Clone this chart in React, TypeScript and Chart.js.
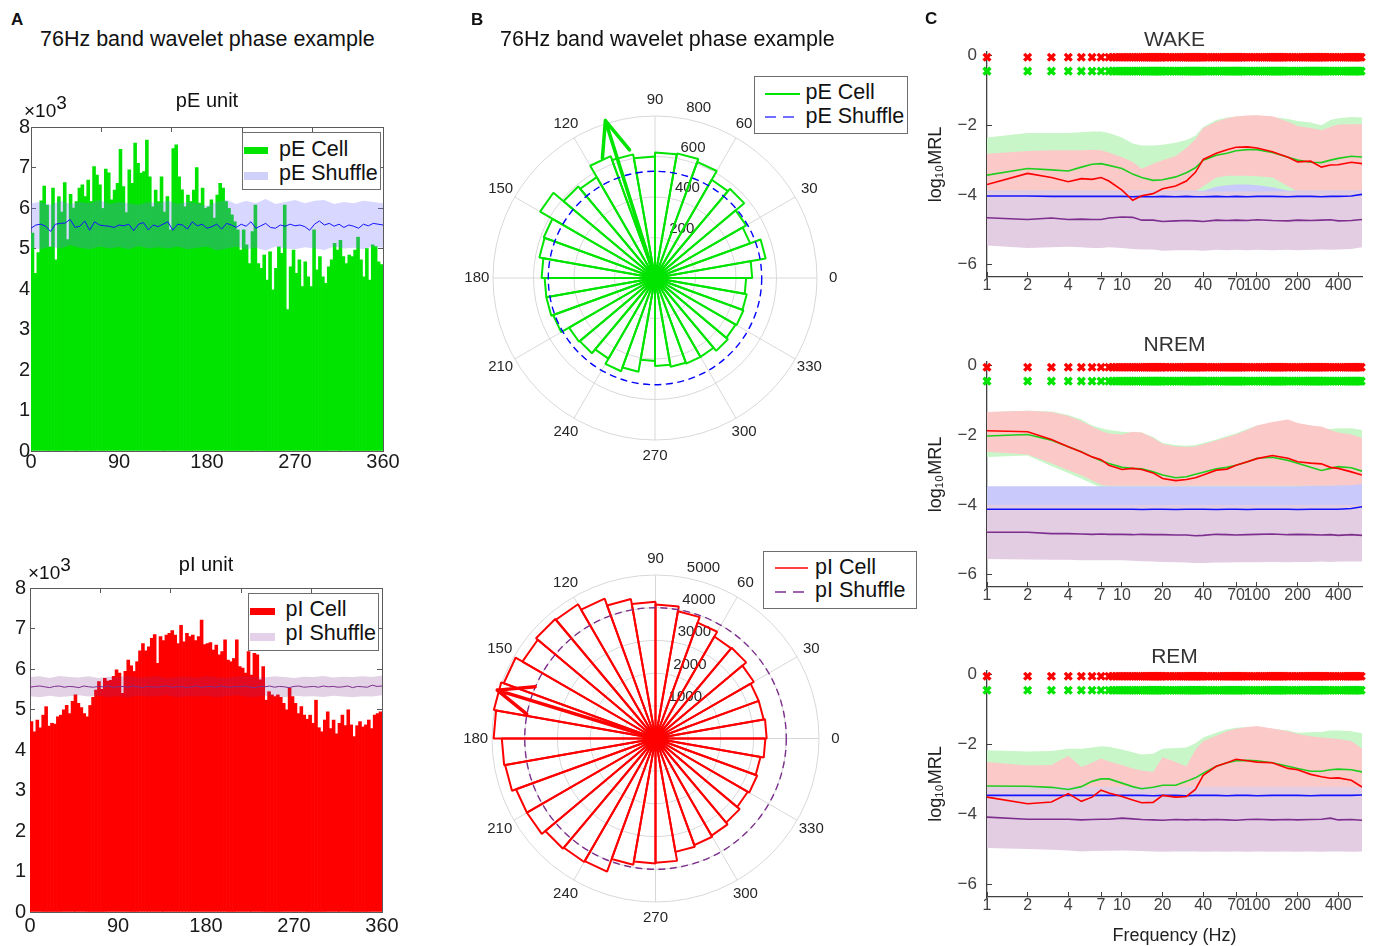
import React, { useEffect, useRef } from "react";
import { Chart, registerables } from "chart.js";

Chart.register(...registerables);

const FONT = '"Liberation Sans", Arial, Helvetica, sans-serif';
Chart.defaults.font.family = FONT;
Chart.defaults.color = "#222";

// ================= Panel A : phase histograms (x10^3 counts, 3-degree bins) =================
const HIST_BIN_DEG = 3;
const PHASE_MIN = 0;
const PHASE_MAX = 360;
const PHASE_STEP = 90;
const COUNT_MIN = 0;
const COUNT_MAX = 8;

const PE_COUNTS = [
  5.38, 4.39, 4.9, 6.18, 6.54, 6.07, 5.04, 6.49, 4.72, 6.28,
  5.9, 6.63, 5.22, 6.34, 6.0, 6.16, 6.49, 6.57, 6.28, 6.69,
  6.16, 7.02, 6.81, 6.57, 5.99, 6.96, 6.87, 6.2, 6.44, 6.61,
  7.45, 6.53, 5.89, 6.94, 6.61, 7.6, 7.1, 6.86, 6.9, 7.68,
  6.77, 6.03, 6.44, 6.16, 6.77, 5.9, 6.28, 5.46, 7.47, 7.56,
  6.77, 6.45, 6.03, 6.32, 6.16, 6.44, 7.0, 6.12, 6.49, 5.99,
  6.03, 6.2, 5.75, 6.32, 6.61, 6.49, 6.16, 5.99, 5.83, 5.66,
  5.46, 4.96, 5.46, 5.09, 4.63, 5.42, 6.07, 4.63, 4.51, 4.84,
  4.22, 4.92, 3.98, 4.51, 5.04, 4.88, 6.07, 3.49, 4.55, 4.96,
  4.39, 4.72, 4.06, 4.67, 4.3, 4.06, 5.46, 4.47, 4.8, 4.3,
  4.14, 4.55, 4.72, 5.13, 4.96, 5.2, 4.8, 4.63, 4.84, 4.8,
  4.96, 5.28, 4.72, 4.3, 5.0, 4.22, 5.09, 5.05, 4.67, 4.6,
];

const PI_COUNTS = [
  4.7, 4.45, 4.74, 4.55, 4.86, 5.07, 4.59, 4.66, 4.64, 4.82,
  4.86, 4.99, 5.1, 4.9, 5.2, 5.36, 5.15, 5.05, 4.9, 4.82,
  5.1, 5.3, 5.48, 5.69, 5.5, 5.77, 5.7, 5.72, 5.82, 5.98,
  5.9, 5.4, 5.94, 6.22, 6.08, 5.94, 6.18, 6.45, 6.63, 6.45,
  6.55, 6.76, 6.85, 6.14, 6.8, 6.7, 6.84, 6.88, 6.95, 6.84,
  6.63, 7.08, 6.67, 6.88, 6.8, 6.84, 6.7, 6.8, 7.21, 6.6,
  6.63, 6.65, 6.47, 6.59, 6.35, 6.43, 6.72, 6.22, 6.18, 6.26,
  6.72, 6.06, 6.02, 5.9, 6.43, 5.85, 6.39, 6.35, 5.73, 6.06,
  5.23, 5.44, 5.36, 5.32, 5.36, 5.3, 5.15, 4.99, 5.52, 5.32,
  5.15, 4.9, 5.07, 4.86, 4.76, 4.86, 4.66, 5.23, 4.55, 4.45,
  4.74, 4.94, 4.53, 4.74, 4.4, 4.66, 4.86, 4.6, 4.99, 4.62,
  4.33, 4.6, 4.7, 4.57, 4.62, 4.74, 4.53, 4.86, 4.9, 4.94,
];

// shuffle band (every 10 deg) and shuffle mean (every 5 deg)
const SHUF_BAND_STEP = 10;
const SHUF_MEAN_STEP = 5;

const PE_SHUF_HI = [
  6.12, 6.15, 6.08, 6.18, 6.1, 6.15, 6.12, 6.2, 6.1, 6.15,
  6.12, 6.08, 6.15, 6.12, 6.18, 6.1, 6.15, 6.12, 6.05, 6.15,
  6.2, 6.1, 6.18, 6.12, 6.22, 6.1, 6.15, 6.2, 6.12, 6.18,
  6.2, 6.1, 6.15, 6.12, 6.18, 6.15, 6.12,
];
const PE_SHUF_LO = [
  5.02, 4.98, 5.05, 5.0, 5.08, 5.02, 4.98, 5.05, 5.0, 5.04,
  4.98, 5.06, 5.0, 5.03, 5.0, 5.05, 4.98, 5.02, 5.05, 4.95,
  5.0, 5.05, 4.98, 5.02, 4.95, 5.05, 5.0, 4.98, 5.03, 5.0,
  4.96, 5.05, 5.0, 5.02, 4.98, 5.05, 5.02,
];
const PE_SHUF_MEAN = [
  5.5, 5.58, 5.6, 5.55, 5.42, 5.6, 5.62, 5.63, 5.72, 5.52,
  5.55, 5.68, 5.45, 5.66, 5.58, 5.56, 5.55, 5.52, 5.58, 5.56,
  5.6, 5.44, 5.6, 5.64, 5.46, 5.58, 5.54, 5.6, 5.66, 5.45,
  5.6, 5.58, 5.48, 5.66, 5.56, 5.6, 5.5, 5.54, 5.6, 5.48,
  5.62, 5.58, 5.52, 5.6, 5.55, 5.66, 5.5, 5.56, 5.62, 5.52,
  5.5, 5.58, 5.55, 5.6, 5.56, 5.58, 5.54, 5.45, 5.6, 5.68,
  5.58, 5.62, 5.55, 5.6, 5.52, 5.58, 5.55, 5.5, 5.6, 5.56,
  5.62, 5.6, 5.58,
];
const PI_SHUF_HI = [
  5.8, 5.82, 5.78, 5.83, 5.8, 5.79, 5.82, 5.78, 5.81, 5.8,
  5.83, 5.79, 5.8, 5.82, 5.78, 5.8, 5.81, 5.79, 5.82, 5.8,
  5.78, 5.81, 5.83, 5.8, 5.79, 5.82, 5.8, 5.78, 5.81, 5.8,
  5.83, 5.79, 5.81, 5.8, 5.82, 5.8, 5.84,
];
const PI_SHUF_LO = [
  5.33, 5.3, 5.34, 5.31, 5.33, 5.35, 5.32, 5.34, 5.31, 5.33,
  5.3, 5.34, 5.32, 5.33, 5.35, 5.31, 5.33, 5.32, 5.34, 5.31,
  5.33, 5.35, 5.32, 5.31, 5.34, 5.33, 5.3, 5.34, 5.32, 5.33,
  5.31, 5.34, 5.32, 5.3, 5.33, 5.32, 5.35,
];
const PI_SHUF_MEAN = [
  5.55, 5.57, 5.58, 5.56, 5.54, 5.57, 5.58, 5.55, 5.57, 5.56,
  5.54, 5.58, 5.56, 5.55, 5.57, 5.56, 5.58, 5.55, 5.56, 5.57,
  5.55, 5.58, 5.56, 5.54, 5.57, 5.56, 5.55, 5.57, 5.58, 5.55,
  5.56, 5.57, 5.54, 5.56, 5.58, 5.55, 5.56, 5.57, 5.55, 5.58,
  5.56, 5.55, 5.57, 5.56, 5.58, 5.55, 5.54, 5.57, 5.56, 5.58,
  5.55, 5.57, 5.56, 5.54, 5.57, 5.58, 5.55, 5.56, 5.57, 5.55,
  5.58, 5.56, 5.57, 5.55, 5.56, 5.58, 5.54, 5.57, 5.56, 5.55,
  5.6, 5.57, 5.58,
];

// ================= Panel B : rose plots (10-degree bins starting at 0,10,...,350) =================
const ROSE_BIN_DEG = 10;
const ROSE_PE = [
  480, 555, 500, 520, 575, 560, 610, 625, 620, 600,
  620, 640, 575, 590, 655, 585, 580, 560, 545, 545,
  535, 490, 485, 460, 490, 470, 410, 435, 445, 450,
  450, 470, 460, 465, 460, 450,
];
const ROSE_PI = [
  3400, 3360, 3360, 3470, 3620, 3600, 3770, 3950, 4100, 4180,
  4330, 4550, 4740, 4770, 4700, 4940, 5020, 4950, 4700, 4670,
  4540, 4540, 4400, 4360, 4330, 3920, 3820, 3800, 3520, 3470,
  3430, 3360, 3260, 3310, 3260, 3360,
];
const ROSE_PE_SHUFFLE = 527;
const ROSE_PI_SHUFFLE = 4000;
const ROSE_PE_MEAN = { angle: 107.5, length: 815 };
const ROSE_PI_MEAN = { angle: 163, length: 5060 };
const ROSE_PE_MAX = 800;
const ROSE_PE_STEP = 200;
const ROSE_PI_MAX = 5000;
const ROSE_PI_STEP = 1000;
const ANGLE_LABELS = [0, 30, 60, 90, 120, 150, 180, 210, 240, 270, 300, 330];

// ================= Panel C : log10 MRL vs frequency =================
const FREQS = [1, 2, 3, 4, 5, 6, 7, 8, 10, 12, 14, 17, 20, 25, 30, 35, 40, 50, 60, 70, 85, 100, 130, 170, 200, 250, 300, 350, 400, 500, 600];
const FREQ_TICKS = [1, 2, 4, 7, 10, 20, 40, 70, 100, 200, 400];
const MRL_TICKS = [-6, -4, -2, 0];
const FREQ_MIN = 1;
const FREQ_MAX = 600;
const MRL_MIN = -6.35;
const MRL_MAX = 0.1;
// frequencies flagged significant (same for every state)
const SIG_FREQS = [
  1, 2, 3, 4, 5, 6, 7,
  8, 8.5, 9, 9.5, 10, 10.5, 11, 11.5, 12, 12.5, 13, 13.5, 14, 14.5, 15, 15.5, 16, 16.5, 17, 17.5, 18, 18.5, 19, 19.5,
  20, 21, 22, 23, 24, 25, 26, 27, 28, 29, 30, 31, 32, 33, 34, 35, 36, 37, 38, 39,
  40, 42, 44, 46, 48, 50, 52, 54, 56, 58, 60, 62, 64, 66, 68, 70, 72, 74, 76, 78,
  80, 84, 88, 92, 96, 100, 104, 108, 112, 116, 120, 124, 128, 132, 136, 140, 144, 148, 152, 156,
  160, 168, 176, 184, 192, 200, 208, 216, 224, 232, 240, 248, 256, 264, 272, 280, 288, 296, 304, 312,
  320, 336, 352, 368, 384, 400, 416, 432, 448, 464, 480, 496, 512, 528, 544, 560, 576, 592,
];
const SIG_Y_PI = -0.05;
const SIG_Y_PE = -0.45;

// WAKE
const WAKE_PE = [-3.43, -3.24, -3.28, -3.31, -3.2, -3.12, -3.1, -3.15, -3.24, -3.4, -3.5, -3.58, -3.56, -3.48, -3.36, -3.22, -3.0, -2.86, -2.8, -2.73, -2.7, -2.7, -2.78, -2.92, -3.0, -3.06, -3.07, -3.0, -2.95, -2.89, -2.91];
const WAKE_PI = [-3.7, -3.38, -3.5, -3.62, -3.53, -3.55, -3.5, -3.6, -3.86, -4.15, -4.02, -3.96, -3.82, -3.74, -3.6, -3.35, -2.98, -2.8, -2.7, -2.63, -2.62, -2.65, -2.76, -2.92, -3.05, -3.03, -3.2, -3.14, -3.13, -3.06, -3.1];
const WAKE_PE_SH = [-4.03, -4.03, -4.04, -4.04, -4.04, -4.04, -4.04, -4.04, -4.04, -4.05, -4.04, -4.05, -4.04, -4.05, -4.04, -4.05, -4.05, -4.04, -4.05, -4.04, -4.05, -4.04, -4.04, -4.05, -4.04, -4.04, -4.05, -4.04, -4.04, -4.03, -3.98];
const WAKE_PI_SH = [-4.65, -4.7, -4.66, -4.7, -4.69, -4.7, -4.7, -4.66, -4.63, -4.64, -4.72, -4.72, -4.76, -4.74, -4.73, -4.74, -4.76, -4.72, -4.73, -4.72, -4.73, -4.71, -4.73, -4.74, -4.72, -4.73, -4.72, -4.71, -4.74, -4.73, -4.7];
const WAKE_PE_HI = [-2.35, -2.22, -2.22, -2.22, -2.2, -2.18, -2.18, -2.22, -2.35, -2.52, -2.58, -2.58, -2.56, -2.5, -2.42, -2.3, -2.05, -1.85, -1.78, -1.75, -1.73, -1.73, -1.76, -1.82, -1.88, -1.92, -2.0, -1.85, -1.8, -1.76, -1.78];
const WAKE_PE_LO = [-3.92, -3.92, -3.92, -3.92, -3.92, -3.92, -3.92, -3.92, -3.92, -3.92, -3.92, -3.92, -3.92, -3.92, -3.92, -3.92, -3.92, -3.92, -3.92, -3.92, -3.92, -3.92, -3.92, -3.92, -3.92, -3.92, -3.92, -3.92, -3.92, -3.92, -3.92];
const WAKE_PI_HI = [-2.82, -2.74, -2.72, -2.72, -2.72, -2.7, -2.72, -2.78, -2.92, -3.05, -3.25, -3.1, -3.0, -2.88, -2.65, -2.4, -2.08, -1.9, -1.8, -1.75, -1.72, -1.71, -1.74, -1.9, -2.02, -2.08, -2.14, -2.05, -1.98, -1.97, -1.97];
const WAKE_PI_LO = [-3.9, -3.9, -3.9, -3.9, -3.9, -3.9, -3.9, -3.9, -3.9, -3.9, -3.9, -3.9, -3.9, -3.9, -3.9, -3.9, -3.75, -3.5, -3.45, -3.45, -3.45, -3.46, -3.5, -3.75, -3.9, -3.9, -3.9, -3.9, -3.9, -3.9, -3.9];
const WAKE_PE_SH_HI = [-3.88, -3.88, -3.88, -3.88, -3.88, -3.88, -3.88, -3.88, -3.88, -3.88, -3.88, -3.88, -3.88, -3.88, -3.88, -3.88, -3.88, -3.76, -3.72, -3.7, -3.7, -3.72, -3.78, -3.88, -3.88, -3.88, -3.88, -3.88, -3.88, -3.88, -3.88];
const WAKE_PE_SH_LO = [-4.2, -4.2, -4.2, -4.2, -4.2, -4.2, -4.2, -4.2, -4.2, -4.2, -4.2, -4.2, -4.2, -4.2, -4.2, -4.2, -4.2, -4.2, -4.2, -4.2, -4.2, -4.2, -4.2, -4.2, -4.2, -4.2, -4.2, -4.2, -4.2, -4.2, -4.2];
const WAKE_PI_SH_HI = [-3.9, -3.9, -3.9, -3.9, -3.9, -3.9, -3.9, -3.9, -3.9, -3.9, -3.9, -3.9, -3.9, -3.9, -3.9, -3.9, -3.9, -3.9, -3.9, -3.9, -3.9, -3.9, -3.9, -3.9, -3.9, -3.9, -3.9, -3.9, -3.9, -3.9, -3.9];
const WAKE_PI_SH_LO = [-5.45, -5.52, -5.5, -5.48, -5.5, -5.52, -5.52, -5.5, -5.52, -5.55, -5.56, -5.56, -5.6, -5.58, -5.58, -5.58, -5.6, -5.57, -5.58, -5.57, -5.58, -5.57, -5.58, -5.57, -5.58, -5.57, -5.56, -5.57, -5.56, -5.55, -5.5];

// NREM
const NREM_PE = [-2.02, -1.98, -2.14, -2.33, -2.47, -2.62, -2.73, -2.81, -2.92, -2.95, -2.96, -3.05, -3.14, -3.22, -3.19, -3.12, -3.06, -2.96, -2.92, -2.86, -2.76, -2.66, -2.63, -2.72, -2.8, -2.92, -3.01, -2.95, -2.9, -2.93, -3.03];
const NREM_PI = [-1.87, -1.9, -2.12, -2.33, -2.48, -2.62, -2.7, -2.86, -2.98, -2.95, -2.98, -3.08, -3.24, -3.3, -3.27, -3.22, -3.14, -3.0, -2.97, -2.86, -2.76, -2.67, -2.58, -2.66, -2.76, -2.8, -2.82, -2.92, -2.95, -3.05, -3.14];
const NREM_PE_SH = [-4.12, -4.12, -4.12, -4.12, -4.12, -4.12, -4.12, -4.12, -4.12, -4.12, -4.13, -4.12, -4.12, -4.13, -4.12, -4.12, -4.12, -4.13, -4.12, -4.12, -4.13, -4.12, -4.12, -4.12, -4.13, -4.12, -4.12, -4.12, -4.12, -4.1, -4.05];
const NREM_PI_SH = [-4.78, -4.78, -4.82, -4.82, -4.83, -4.84, -4.83, -4.84, -4.84, -4.85, -4.84, -4.85, -4.85, -4.86, -4.86, -4.88, -4.87, -4.84, -4.85, -4.86, -4.85, -4.84, -4.83, -4.85, -4.84, -4.85, -4.86, -4.85, -4.87, -4.85, -4.87];
const NREM_PE_HI = [-1.34, -1.3, -1.32, -1.42, -1.55, -1.72, -1.8, -1.85, -1.9, -1.92, -1.92, -2.05, -2.22, -2.28, -2.3, -2.28, -2.22, -2.12, -2.02, -1.95, -1.82, -1.72, -1.68, -1.62, -1.66, -1.72, -1.8, -1.82, -1.8, -1.8, -1.85];
const NREM_PE_LO = [-2.62, -2.58, -2.88, -3.08, -3.25, -3.38, -3.5, -3.5, -3.5, -3.5, -3.5, -3.5, -3.5, -3.5, -3.5, -3.5, -3.5, -3.5, -3.5, -3.5, -3.5, -3.5, -3.5, -3.5, -3.5, -3.5, -3.5, -3.5, -3.5, -3.5, -3.5];
const NREM_PI_HI = [-1.33, -1.3, -1.33, -1.45, -1.6, -1.75, -1.88, -1.95, -1.98, -1.9, -1.92, -2.08, -2.25, -2.32, -2.34, -2.32, -2.26, -2.15, -2.06, -1.98, -1.85, -1.72, -1.62, -1.55, -1.65, -1.72, -1.75, -1.85, -1.92, -1.98, -2.08];
const NREM_PI_LO = [-2.47, -2.55, -2.8, -3.0, -3.15, -3.3, -3.42, -3.45, -3.45, -3.45, -3.45, -3.45, -3.45, -3.45, -3.45, -3.45, -3.45, -3.45, -3.45, -3.45, -3.45, -3.45, -3.45, -3.45, -3.45, -3.45, -3.45, -3.45, -3.45, -3.45, -3.45];
const NREM_PE_SH_HI = [-3.46, -3.46, -3.46, -3.46, -3.46, -3.46, -3.46, -3.46, -3.46, -3.46, -3.46, -3.46, -3.46, -3.46, -3.46, -3.46, -3.46, -3.46, -3.46, -3.46, -3.46, -3.46, -3.46, -3.46, -3.46, -3.45, -3.45, -3.45, -3.44, -3.43, -3.4];
const NREM_PE_SH_LO = [-4.3, -4.3, -4.3, -4.3, -4.3, -4.3, -4.3, -4.3, -4.3, -4.3, -4.3, -4.3, -4.3, -4.3, -4.3, -4.3, -4.3, -4.3, -4.3, -4.3, -4.3, -4.3, -4.3, -4.3, -4.3, -4.3, -4.3, -4.3, -4.3, -4.3, -4.3];
const NREM_PI_SH_HI = [-4.0, -4.0, -4.0, -4.0, -4.0, -4.0, -4.0, -4.0, -4.0, -4.0, -4.0, -4.0, -4.0, -4.0, -4.0, -4.0, -4.0, -4.0, -4.0, -4.0, -4.0, -4.0, -4.0, -4.0, -4.0, -4.0, -4.0, -4.0, -4.0, -4.0, -4.0];
const NREM_PI_SH_LO = [-5.55, -5.56, -5.57, -5.57, -5.58, -5.58, -5.58, -5.58, -5.58, -5.6, -5.61, -5.62, -5.63, -5.64, -5.65, -5.66, -5.66, -5.65, -5.65, -5.64, -5.64, -5.64, -5.63, -5.64, -5.63, -5.63, -5.62, -5.63, -5.62, -5.62, -5.62];

// REM
const REM_PE = [-3.18, -3.19, -3.22, -3.28, -3.2, -3.05, -2.98, -2.98, -3.1, -3.2, -3.26, -3.22, -3.16, -3.16, -3.05, -2.95, -2.82, -2.62, -2.52, -2.46, -2.45, -2.46, -2.52, -2.62, -2.68, -2.76, -2.76, -2.72, -2.7, -2.72, -2.78];
const REM_PI = [-3.5, -3.69, -3.64, -3.4, -3.62, -3.5, -3.3, -3.38, -3.48, -3.58, -3.66, -3.65, -3.45, -3.5, -3.48, -3.28, -2.88, -2.62, -2.52, -2.42, -2.46, -2.5, -2.52, -2.68, -2.72, -2.85, -2.92, -2.96, -2.95, -3.02, -3.21];
const REM_PE_SH = [-3.45, -3.45, -3.45, -3.45, -3.45, -3.45, -3.45, -3.45, -3.45, -3.45, -3.45, -3.46, -3.45, -3.45, -3.46, -3.45, -3.45, -3.45, -3.46, -3.45, -3.45, -3.46, -3.45, -3.45, -3.45, -3.46, -3.45, -3.45, -3.45, -3.45, -3.44];
const REM_PI_SH = [-4.07, -4.13, -4.13, -4.13, -4.15, -4.14, -4.13, -4.13, -4.1, -4.12, -4.14, -4.15, -4.16, -4.14, -4.15, -4.14, -4.15, -4.14, -4.15, -4.16, -4.14, -4.13, -4.15, -4.14, -4.15, -4.14, -4.13, -4.1, -4.15, -4.14, -4.16];
const REM_PE_HI = [-2.16, -2.2, -2.18, -2.12, -2.12, -2.08, -2.05, -2.06, -2.14, -2.22, -2.28, -2.26, -2.12, -2.1, -2.08, -1.96, -1.8, -1.66, -1.56, -1.52, -1.5, -1.5, -1.55, -1.6, -1.66, -1.65, -1.64, -1.6, -1.6, -1.62, -1.68];
const REM_PE_LO = [-3.25, -3.25, -3.25, -3.25, -3.25, -3.25, -3.25, -3.25, -3.25, -3.25, -3.25, -3.25, -3.25, -3.25, -3.25, -3.25, -3.25, -3.25, -3.25, -3.25, -3.25, -3.25, -3.25, -3.25, -3.25, -3.25, -3.25, -3.25, -3.25, -3.25, -3.25];
const REM_PI_HI = [-2.5, -2.6, -2.58, -2.32, -2.64, -2.52, -2.4, -2.48, -2.58, -2.68, -2.74, -2.78, -2.36, -2.5, -2.62, -2.15, -1.9, -1.75, -1.62, -1.55, -1.5, -1.47, -1.54, -1.62, -1.7, -1.76, -1.8, -1.82, -1.84, -1.9, -2.12];
const REM_PI_LO = [-3.22, -3.22, -3.22, -3.22, -3.22, -3.22, -3.22, -3.22, -3.22, -3.22, -3.22, -3.22, -3.22, -3.22, -3.22, -3.22, -3.22, -3.22, -3.22, -3.22, -3.22, -3.22, -3.22, -3.22, -3.22, -3.22, -3.22, -3.22, -3.22, -3.22, -3.22];
const REM_PE_SH_HI = [-3.25, -3.25, -3.25, -3.25, -3.25, -3.25, -3.25, -3.25, -3.25, -3.25, -3.25, -3.25, -3.25, -3.25, -3.25, -3.25, -3.25, -3.25, -3.25, -3.25, -3.25, -3.25, -3.25, -3.25, -3.25, -3.25, -3.25, -3.25, -3.25, -3.25, -3.25];
const REM_PE_SH_LO = [-3.7, -3.7, -3.7, -3.7, -3.7, -3.7, -3.7, -3.7, -3.7, -3.7, -3.7, -3.7, -3.7, -3.7, -3.7, -3.7, -3.7, -3.7, -3.7, -3.7, -3.7, -3.7, -3.7, -3.7, -3.7, -3.7, -3.7, -3.7, -3.7, -3.7, -3.7];
const REM_PI_SH_HI = [-3.2, -3.2, -3.2, -3.2, -3.2, -3.2, -3.2, -3.2, -3.2, -3.2, -3.2, -3.2, -3.2, -3.2, -3.2, -3.2, -3.2, -3.2, -3.2, -3.2, -3.2, -3.2, -3.2, -3.2, -3.2, -3.2, -3.2, -3.2, -3.2, -3.2, -3.2];
const REM_PI_SH_LO = [-4.95, -4.98, -5.0, -5.02, -5.05, -5.04, -5.03, -5.03, -5.02, -5.03, -5.04, -5.05, -5.06, -5.05, -5.05, -5.05, -5.06, -5.05, -5.06, -5.05, -5.06, -5.05, -5.06, -5.05, -5.06, -5.05, -5.06, -5.05, -5.05, -5.06, -5.05];

// ================= styles =================
const GREEN = "rgb(0,228,0)";
const RED = "rgb(255,0,0)";
const BLUE = "rgb(20,20,255)";
const PURPLE = "#7e2f8e";
const C_GREEN_LINE = "rgb(30,205,30)";
const C_GREEN_BAND = "#c8f6c8";
const C_RED_BAND = "#fcc9c9";
const C_BLUE_BAND = "#c9c9fb";
const C_PURPLE_BAND = "#e2cde3";
const GRID_GRAY = "#d8d8d8";
const AXIS_A = "#5a5a5a";
const AXIS_C = "#404040";
const ARROW_HEAD_DEG = 22;
const ARROW_HEAD_PX = 38;

type Pad = { left: number; right: number; top: number; bottom: number };

function histConfig(p: any) {
  const tickFont = { size: 20 };
  const gridA = { drawOnChartArea: false, drawTicks: true, tickLength: -5, color: AXIS_A };
  const borderA = { display: true, color: AXIS_A, width: 1 };
  return {
    type: "bar",
    data: {
      datasets: [
        {
          type: "bar",
          data: p.counts.map((v: number, i: number) => ({ x: (i + 0.5) * HIST_BIN_DEG, y: v })),
          backgroundColor: p.barColor,
          borderWidth: 0,
          barPercentage: 1,
          categoryPercentage: 1,
          order: 10,
        },
        {
          type: "line",
          data: p.hi.map((v: number, i: number) => ({ x: i * SHUF_BAND_STEP, y: v })),
          borderWidth: 0,
          pointRadius: 0,
          fill: "+1",
          backgroundColor: p.bandColor,
          order: 5,
        },
        {
          type: "line",
          data: p.lo.map((v: number, i: number) => ({ x: i * SHUF_BAND_STEP, y: v })),
          borderWidth: 0,
          pointRadius: 0,
          fill: false,
          order: 4,
        },
        {
          type: "line",
          data: p.mean.map((v: number, i: number) => ({ x: i * SHUF_MEAN_STEP, y: v })),
          borderColor: p.meanColor,
          borderWidth: 1,
          pointRadius: 0,
          fill: false,
          order: 1,
        },
      ],
    },
    options: {
      responsive: false,
      animation: false,
      devicePixelRatio: 1,
      events: [],
      layout: { padding: p.padding },
      plugins: {
        legend: { display: false },
        tooltip: { enabled: false },
        title: {
          display: true,
          text: p.title,
          fullSize: false,
          color: "#111",
          font: { size: 20, weight: "normal", lineHeight: 1.2 },
          padding: p.titlePad,
        },
      },
      scales: {
        x: {
          type: "linear",
          min: PHASE_MIN,
          max: PHASE_MAX,
          offset: false,
          ticks: { stepSize: PHASE_STEP, font: tickFont, color: "#1a1a1a", padding: p.xTickPad, maxRotation: 0, autoSkip: false },
          grid: gridA,
          border: borderA,
          afterFit: (s: any) => { s.height = p.xAxisH; },
        },
        x2: {
          type: "linear",
          position: "top",
          min: PHASE_MIN,
          max: PHASE_MAX,
          ticks: { display: false, stepSize: PHASE_STEP },
          grid: gridA,
          border: borderA,
          afterFit: (s: any) => { s.height = 0; },
        },
        y: {
          type: "linear",
          min: COUNT_MIN,
          max: COUNT_MAX,
          ticks: { stepSize: 1, font: tickFont, color: "#1a1a1a", padding: p.yTickPad },
          grid: gridA,
          border: borderA,
          afterFit: (s: any) => { s.width = p.yAxisW; },
        },
        y2: {
          type: "linear",
          position: "right",
          min: COUNT_MIN,
          max: COUNT_MAX,
          ticks: { display: false, stepSize: 1 },
          grid: gridA,
          border: borderA,
          afterFit: (s: any) => { s.width = 0; },
        },
      },
    },
  };
}

function roseDecor(p: any) {
  return {
    id: "roseDecor",
    beforeDatasetsDraw(chart: any) {
      const s = chart.scales.r;
      const ctx = chart.ctx;
      const cx = s.xCenter;
      const cy = s.yCenter;
      const R = s.drawingArea;
      ctx.save();
      ctx.fillStyle = "#262626";
      ctx.font = `15px ${FONT}`;
      ctx.textAlign = "center";
      ctx.textBaseline = "middle";
      for (const a of ANGLE_LABELS) {
        const rad = (a * Math.PI) / 180;
        ctx.fillText(String(a), cx + 1.1 * R * Math.cos(rad), cy - 1.1 * R * Math.sin(rad));
      }
      ctx.textAlign = "left";
      ctx.textBaseline = "bottom";
      const r82 = (82 * Math.PI) / 180;
      for (const t of s.ticks) {
        if (t.value <= 0) continue;
        const d = s.getDistanceFromCenterForValue(t.value + p.step / 20);
        ctx.fillText("  " + t.value, cx + d * Math.cos(r82), cy - d * Math.sin(r82));
      }
      ctx.restore();
    },
    afterDatasetsDraw(chart: any) {
      const s = chart.scales.r;
      const ctx = chart.ctx;
      const cx = s.xCenter;
      const cy = s.yCenter;
      ctx.save();
      ctx.strokeStyle = p.shuffleColor;
      ctx.lineWidth = 1.4;
      ctx.setLineDash([7, 4.5]);
      ctx.beginPath();
      ctx.arc(cx, cy, s.getDistanceFromCenterForValue(p.shuffle), 0, Math.PI * 2);
      ctx.stroke();
      ctx.setLineDash([]);
      const th = (p.mean.angle * Math.PI) / 180;
      const L = s.getDistanceFromCenterForValue(p.mean.length);
      const tx = cx + L * Math.cos(th);
      const ty = cy - L * Math.sin(th);
      ctx.strokeStyle = p.color;
      ctx.lineWidth = 3.5;
      ctx.lineCap = "round";
      ctx.lineJoin = "round";
      ctx.beginPath();
      ctx.moveTo(cx, cy);
      ctx.lineTo(tx, ty);
      const back = Math.atan2(cy - ty, cx - tx);
      for (const sg of [-1, 1]) {
        const a = back + (sg * ARROW_HEAD_DEG * Math.PI) / 180;
        ctx.moveTo(tx, ty);
        ctx.lineTo(tx + ARROW_HEAD_PX * Math.cos(a), ty + ARROW_HEAD_PX * Math.sin(a));
      }
      ctx.stroke();
      ctx.restore();
    },
  };
}

function roseConfig(p: any) {
  const n = p.bins.length;
  const first = 90 / ROSE_BIN_DEG - 1;
  const idx = p.bins.map((_: number, i: number) => (((first - i) % n) + n) % n);
  return {
    type: "polarArea",
    data: {
      labels: idx.map((k: number) => String(k * ROSE_BIN_DEG)),
      datasets: [
        {
          data: idx.map((k: number) => p.bins[k]),
          backgroundColor: "rgba(0,0,0,0)",
          borderColor: p.color,
          borderWidth: 2,
          circular: false,
        },
      ],
    },
    options: {
      responsive: false,
      animation: false,
      devicePixelRatio: 1,
      events: [],
      layout: { padding: p.padding },
      plugins: { legend: { display: false }, tooltip: { enabled: false } },
      scales: {
        r: {
          min: 0,
          max: p.max,
          startAngle: 0,
          ticks: { display: false, stepSize: p.step },
          grid: { circular: true, color: GRID_GRAY, lineWidth: 1 },
          angleLines: { display: true, color: GRID_GRAY, lineWidth: (c: any) => (c.index % 3 === 0 ? 1 : 0) },
          pointLabels: { display: false },
          afterFit: (s: any) => {
            s.xCenter = s.left + s.width / 2;
            s.yCenter = s.top + s.height / 2;
            s.drawingArea = Math.min(s.width, s.height) / 2;
          },
        },
      },
    },
    plugins: [roseDecor(p)],
  };
}

function mrlConfig(p: any) {
  const pts = (ys: number[]) => FREQS.map((f, i) => ({ x: f, y: ys[i] }));
  const band = (ys: number[], color: string | null, order: number) => ({
    data: pts(ys),
    borderWidth: 0,
    pointRadius: 0,
    fill: color ? "+1" : false,
    backgroundColor: color || "rgba(0,0,0,0)",
    order,
  });
  const line = (ys: number[], color: string, order: number) => ({
    data: pts(ys),
    borderColor: color,
    borderWidth: 1.6,
    pointRadius: 0,
    fill: false,
    order,
  });
  const marks = (y: number, color: string, order: number) => ({
    data: SIG_FREQS.map((f) => ({ x: f, y })),
    showLine: false,
    pointStyle: "crossRot",
    pointRadius: 4.8,
    pointBorderWidth: 3.4,
    pointBorderColor: color,
    pointBackgroundColor: color,
    borderColor: color,
    clip: false,
    order,
  });
  const gridC = { drawOnChartArea: false, drawTicks: true, tickLength: -5, color: AXIS_C };
  const borderC = { display: true, color: AXIS_C, width: 1.3 };
  return {
    type: "line",
    data: {
      datasets: [
        band(p.peHi, C_GREEN_BAND, 100),
        band(p.peLo, null, 99),
        band(p.piHi, C_RED_BAND, 98),
        band(p.piLo, null, 97),
        band(p.peShHi, C_BLUE_BAND, 96),
        band(p.peShLo, null, 95),
        band(p.piShHi, C_PURPLE_BAND, 94),
        band(p.piShLo, null, 93),
        line(p.piSh, PURPLE, 20),
        line(p.peSh, BLUE, 19),
        line(p.pe, C_GREEN_LINE, 18),
        line(p.pi, RED, 17),
        marks(SIG_Y_PI, RED, 2),
        marks(SIG_Y_PE, GREEN, 1),
      ],
    },
    options: {
      responsive: false,
      animation: false,
      devicePixelRatio: 1,
      events: [],
      layout: { padding: { left: 0, right: p.padRight, top: 0, bottom: 0 } },
      plugins: {
        legend: { display: false },
        tooltip: { enabled: false },
        title: {
          display: true,
          text: p.title,
          fullSize: false,
          color: "#333",
          font: { size: 21, weight: "normal", lineHeight: 1 },
          padding: p.titlePad,
        },
      },
      scales: {
        x: {
          type: "logarithmic",
          min: FREQ_MIN,
          max: FREQ_MAX,
          afterBuildTicks: (s: any) => { s.ticks = FREQ_TICKS.map((v) => ({ value: v })); },
          ticks: { autoSkip: false, maxRotation: 0, minRotation: 0, font: { size: 16 }, color: AXIS_C, padding: 4, callback: (v: any) => String(v) },
          grid: gridC,
          border: borderC,
          title: { display: p.xTitle, text: "Frequency (Hz)", color: "#222", font: { size: 18 }, padding: { top: 0, bottom: -1 } },
          afterFit: (s: any) => { s.height = p.xAxisH; },
        },
        y: {
          type: "linear",
          min: MRL_MIN,
          max: MRL_MAX,
          afterBuildTicks: (s: any) => { s.ticks = MRL_TICKS.map((v) => ({ value: v })); },
          ticks: { font: { size: 17 }, color: AXIS_C, padding: 15, callback: (v: any) => (v < 0 ? "\u2212" + Math.abs(v) : String(v)) },
          grid: gridC,
          border: borderC,
          title: { display: true, text: "log\u2081\u2080MRL", color: "#222", font: { size: 18 }, padding: { top: 5, bottom: 0 } },
          afterFit: (s: any) => { s.width = 67; },
        },
      },
    },
  };
}

function ChartCanvas({ x, y, w, h, make }: { x: number; y: number; w: number; h: number; make: () => any }) {
  const ref = useRef<HTMLCanvasElement | null>(null);
  useEffect(() => {
    if (!ref.current) return;
    const chart = new Chart(ref.current, make());
    return () => chart.destroy();
  }, []);
  return (
    <div style={{ position: "absolute", left: x, top: y, width: w, height: h }}>
      <canvas ref={ref} width={w} height={h} style={{ width: w, height: h, display: "block" }} />
    </div>
  );
}

function Txt({ x, cy, size, bold, color, children }: any) {
  return (
    <div
      style={{
        position: "absolute",
        left: x,
        top: cy - 0.5885 * size,
        fontSize: size,
        lineHeight: `${size * 1.2}px`,
        fontWeight: bold ? 700 : 400,
        color: color || "#111",
        whiteSpace: "nowrap",
      }}
    >
      {children}
    </div>
  );
}

function Box({ x, y, w, h }: any) {
  return (
    <div style={{ position: "absolute", left: x, top: y, width: w, height: h, border: "1px solid #6e6e6e", background: "#fff", boxSizing: "border-box" }} />
  );
}

function Rect({ x, y, w, h, color }: any) {
  return <div style={{ position: "absolute", left: x, top: y, width: w, height: h, background: color }} />;
}

function LineSample({ x1, x2, y, color, width, dash }: any) {
  const w = x2 - x1;
  return (
    <svg style={{ position: "absolute", left: x1, top: y - 4 }} width={w} height={8}>
      <line x1={0} y1={4} x2={w} y2={4} stroke={color} strokeWidth={width} strokeDasharray={dash} />
    </svg>
  );
}

function Times10({ x, baseline }: any) {
  const size = 19;
  return (
    <div style={{ position: "absolute", left: x, top: baseline - (0.0415 * size + 0.905 * size), fontSize: size, lineHeight: `${size * 1.2}px`, color: "#111", whiteSpace: "nowrap" }}>
      {"\u00d710"}
      <span style={{ position: "relative", top: -8 }}>3</span>
    </div>
  );
}

export default function App() {
  const LEG = 21.5;
  return (
    <div style={{ position: "absolute", left: 0, top: 0, width: 1373, height: 946, overflow: "hidden", background: "#fff", fontFamily: FONT }}>
      {/* Panel A */}
      <ChartCanvas
        x={0}
        y={60}
        w={420}
        h={420}
        make={() =>
          histConfig({
            counts: PE_COUNTS,
            barColor: GREEN,
            hi: PE_SHUF_HI,
            lo: PE_SHUF_LO,
            mean: PE_SHUF_MEAN,
            bandColor: "rgba(110,110,255,0.28)",
            meanColor: BLUE,
            title: "pE unit",
            titlePad: { top: 29, bottom: 14 },
            padding: { left: 0, right: 37, top: 0, bottom: 0 } as Pad,
            xAxisH: 29,
            yAxisW: 31,
            xTickPad: 4,
            yTickPad: 6,
          })
        }
      />
      <ChartCanvas
        x={0}
        y={520}
        w={420}
        h={426}
        make={() =>
          histConfig({
            counts: PI_COUNTS,
            barColor: RED,
            hi: PI_SHUF_HI,
            lo: PI_SHUF_LO,
            mean: PI_SHUF_MEAN,
            bandColor: "rgba(126,47,142,0.22)",
            meanColor: PURPLE,
            title: "pI unit",
            titlePad: { top: 33, bottom: 11 },
            padding: { left: 0, right: 38, top: 0, bottom: 0 } as Pad,
            xAxisH: 34,
            yAxisW: 30,
            xTickPad: 7,
            yTickPad: 9,
          })
        }
      />

      {/* Panel B */}
      <ChartCanvas
        x={455}
        y={86}
        w={395}
        h={384}
        make={() =>
          roseConfig({
            bins: ROSE_PE,
            max: ROSE_PE_MAX,
            step: ROSE_PE_STEP,
            color: GREEN,
            shuffle: ROSE_PE_SHUFFLE,
            shuffleColor: "#0000ff",
            mean: ROSE_PE_MEAN,
            padding: { left: 38, right: 33, top: 30, bottom: 30 },
          })
        }
      />
      <ChartCanvas
        x={455}
        y={545}
        w={395}
        h={401}
        make={() =>
          roseConfig({
            bins: ROSE_PI,
            max: ROSE_PI_MAX,
            step: ROSE_PI_STEP,
            color: RED,
            shuffle: ROSE_PI_SHUFFLE,
            shuffleColor: PURPLE,
            mean: ROSE_PI_MEAN,
            padding: { left: 37, right: 31, top: 30, bottom: 44 },
          })
        }
      />

      {/* Panel C */}
      <ChartCanvas
        x={920}
        y={20}
        w={453}
        h={290}
        make={() =>
          mrlConfig({
            title: "WAKE",
            titlePad: { top: 10, bottom: 1 },
            pe: WAKE_PE, pi: WAKE_PI, peSh: WAKE_PE_SH, piSh: WAKE_PI_SH,
            peHi: WAKE_PE_HI, peLo: WAKE_PE_LO, piHi: WAKE_PI_HI, piLo: WAKE_PI_LO,
            peShHi: WAKE_PE_SH_HI, peShLo: WAKE_PE_SH_LO, piShHi: WAKE_PI_SH_HI, piShLo: WAKE_PI_SH_LO,
            xTitle: false, xAxisH: 33, padRight: 11,
          })
        }
      />
      <ChartCanvas
        x={920}
        y={330}
        w={453}
        h={290}
        make={() =>
          mrlConfig({
            title: "NREM",
            titlePad: { top: 5, bottom: 6 },
            pe: NREM_PE, pi: NREM_PI, peSh: NREM_PE_SH, piSh: NREM_PI_SH,
            peHi: NREM_PE_HI, peLo: NREM_PE_LO, piHi: NREM_PI_HI, piLo: NREM_PI_LO,
            peShHi: NREM_PE_SH_HI, peShLo: NREM_PE_SH_LO, piShHi: NREM_PI_SH_HI, piShLo: NREM_PI_SH_LO,
            xTitle: false, xAxisH: 33, padRight: 11,
          })
        }
      />
      <ChartCanvas
        x={920}
        y={640}
        w={453}
        h={306}
        make={() =>
          mrlConfig({
            title: "REM",
            titlePad: { top: 7, bottom: 3 },
            pe: REM_PE, pi: REM_PI, peSh: REM_PE_SH, piSh: REM_PI_SH,
            peHi: REM_PE_HI, peLo: REM_PE_LO, piHi: REM_PI_HI, piLo: REM_PI_LO,
            peShHi: REM_PE_SH_HI, peShLo: REM_PE_SH_LO, piShHi: REM_PI_SH_HI, piShLo: REM_PI_SH_LO,
            xTitle: true, xAxisH: 49, padRight: 11,
          })
        }
      />

      {/* headings */}
      <Txt x={11} cy={20} size={17} bold>A</Txt>
      <Txt x={471} cy={19.7} size={17} bold>B</Txt>
      <Txt x={925} cy={19.5} size={17} bold>C</Txt>
      <Txt x={40} cy={39.7} size={21.5}>76Hz band wavelet phase example</Txt>
      <Txt x={500} cy={39.7} size={21.5}>76Hz band wavelet phase example</Txt>
      <Times10 x={24} baseline={118.3} />
      <Times10 x={28} baseline={580} />

      {/* legends A */}
      <Box x={242} y={132} w={139} h={58} />
      <Rect x={244} y={147} w={24} h={7} color={GREEN} />
      <Txt x={279} cy={149.7} size={LEG}>pE Cell</Txt>
      <Rect x={244} y={172} w={24} h={8} color="rgb(208,208,250)" />
      <Txt x={279} cy={173.7} size={LEG}>pE Shuffle</Txt>

      <Box x={248} y={593} w={131} h={58} />
      <Rect x={250} y={607.5} w={25} h={7.5} color={RED} />
      <Txt x={285.5} cy={609.2} size={LEG}>pI Cell</Txt>
      <Rect x={250} y={632.5} w={25} h={8} color="rgb(228,208,232)" />
      <Txt x={285.5} cy={633.2} size={LEG}>pI Shuffle</Txt>

      {/* legends B */}
      <Box x={754} y={76} w={154} h={58} />
      <LineSample x1={765} x2={800} y={94.3} color={GREEN} width={2} />
      <Txt x={805.5} cy={93} size={LEG}>pE Cell</Txt>
      <LineSample x1={765} x2={800} y={116.7} color="#4040ff" width={1.3} dash="11 7" />
      <Txt x={805.5} cy={116.3} size={LEG}>pE Shuffle</Txt>

      <Box x={763} y={551} w={154} h={58} />
      <LineSample x1={775} x2={808} y={568.3} color={RED} width={1.5} />
      <Txt x={815} cy={567.5} size={LEG}>pI Cell</Txt>
      <LineSample x1={775} x2={808} y={591.7} color={PURPLE} width={1.3} dash="11 7" />
      <Txt x={815} cy={590.8} size={LEG}>pI Shuffle</Txt>
    </div>
  );
}
